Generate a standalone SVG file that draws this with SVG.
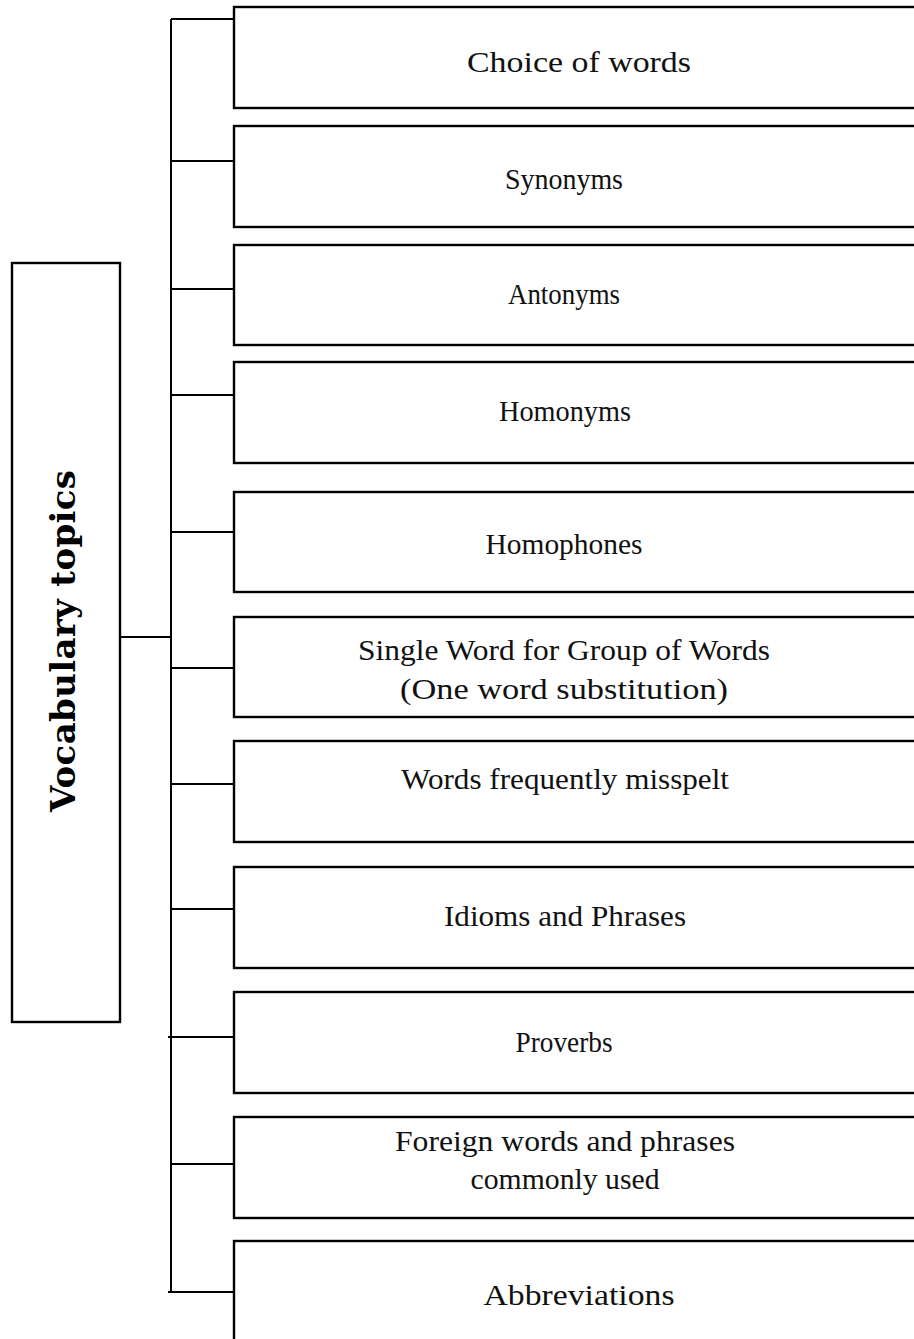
<svg xmlns="http://www.w3.org/2000/svg" width="914" height="1339" viewBox="0 0 914 1339">
  <style>
    .box { fill: #fff; stroke: #000; stroke-width: 2.4; }
    .wire { fill: none; stroke: #000; stroke-width: 2; }
    .lbl { font-family: "Liberation Serif", "Times New Roman", serif; font-size: 30px; fill: #111; text-anchor: middle; }
    .root { font-family: "DejaVu Serif", "Liberation Serif", serif; font-weight: bold; font-size: 34px; fill: #000; text-anchor: middle; }
  </style>
  <rect width="914" height="1339" fill="#fff"/>

  <!-- connectors: trunk, root link and one branch per topic -->
  <g id="connectors" class="wire">
    <path d="M171 19 V1292"/>
    <path d="M120 637 H171"/>
    <path d="M171 19 H234"/>
    <path d="M171 161 H234"/>
    <path d="M171 289 H234"/>
    <path d="M171 395 H234"/>
    <path d="M171 532 H234"/>
    <path d="M171 668 H234"/>
    <path d="M171 784 H234"/>
    <path d="M171 909 H234"/>
    <path d="M168 1037 H234"/>
    <path d="M171 1164 H234"/>
    <path d="M168 1292 H234"/>
  </g>

  <g id="root">
    <rect class="box" x="12" y="263" width="108" height="759"/>
    <text class="root" transform="translate(75,641) rotate(-90)" x="0" y="0" textLength="342" lengthAdjust="spacing">Vocabulary topics</text>
  </g>

  <g id="choice">
    <rect class="box" x="234" y="7" width="700" height="101"/>
    <text class="lbl" x="579" y="72" textLength="224" lengthAdjust="spacingAndGlyphs">Choice of words</text>
  </g>
  <g id="synonyms">
    <rect class="box" x="234" y="126" width="700" height="101"/>
    <text class="lbl" x="564" y="189" textLength="118" lengthAdjust="spacingAndGlyphs">Synonyms</text>
  </g>
  <g id="antonyms">
    <rect class="box" x="234" y="245" width="700" height="100"/>
    <text class="lbl" x="564" y="304" textLength="112" lengthAdjust="spacingAndGlyphs">Antonyms</text>
  </g>
  <g id="homonyms">
    <rect class="box" x="234" y="362" width="700" height="101"/>
    <text class="lbl" x="565" y="421" textLength="132" lengthAdjust="spacingAndGlyphs">Homonyms</text>
  </g>
  <g id="homophones">
    <rect class="box" x="234" y="492" width="700" height="100"/>
    <text class="lbl" x="564" y="554" textLength="157" lengthAdjust="spacingAndGlyphs">Homophones</text>
  </g>
  <g id="one-word">
    <rect class="box" x="234" y="617" width="700" height="100"/>
    <text class="lbl" x="564" y="660" textLength="412" lengthAdjust="spacingAndGlyphs">Single Word for Group of Words</text>
    <text class="lbl" x="564" y="699" textLength="328" lengthAdjust="spacingAndGlyphs">(One word substitution)</text>
  </g>
  <g id="misspelt">
    <rect class="box" x="234" y="741" width="700" height="101"/>
    <text class="lbl" x="565" y="789" textLength="328" lengthAdjust="spacingAndGlyphs">Words frequently misspelt</text>
  </g>
  <g id="idioms">
    <rect class="box" x="234" y="867" width="700" height="101"/>
    <text class="lbl" x="565" y="926" textLength="242" lengthAdjust="spacingAndGlyphs">Idioms and Phrases</text>
  </g>
  <g id="proverbs">
    <rect class="box" x="234" y="992" width="700" height="101"/>
    <text class="lbl" x="564" y="1052" textLength="97" lengthAdjust="spacingAndGlyphs">Proverbs</text>
  </g>
  <g id="foreign">
    <rect class="box" x="234" y="1117" width="700" height="101"/>
    <text class="lbl" x="565" y="1151" textLength="340" lengthAdjust="spacingAndGlyphs">Foreign words and phrases</text>
    <text class="lbl" x="565" y="1189" textLength="189" lengthAdjust="spacingAndGlyphs">commonly used</text>
  </g>
  <g id="abbreviations">
    <rect class="box" x="234" y="1241" width="700" height="120"/>
    <text class="lbl" x="579" y="1305" textLength="191" lengthAdjust="spacingAndGlyphs">Abbreviations</text>
  </g>
</svg>
